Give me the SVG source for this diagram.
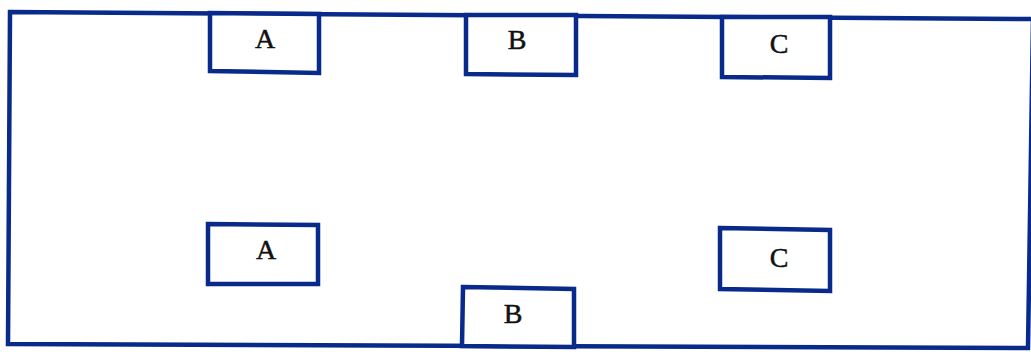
<svg xmlns="http://www.w3.org/2000/svg" width="1031" height="352" viewBox="0 0 1031 352">
<style>
.frame{fill:none;stroke:#082a8a;stroke-width:4.5;stroke-linejoin:miter}
.box{fill:#ffffff;stroke:#082a8a;stroke-width:4.5}
.lbl{font-family:"Liberation Serif","Times New Roman",serif;font-size:28px;fill:#111;stroke:#111;stroke-width:0.5;text-anchor:middle}
</style>
<rect width="1031" height="352" fill="#ffffff"/>
<g id="outline">
<polygon class="frame" points="10,12 1033,19 1028,348 8,344"/>
</g>
<g id="connectors"></g>
<g id="node-a-top">
<polygon class="box" points="210,13 319,14 319,73 210,71"/>
<text class="lbl" x="265" y="48">A</text>
</g>
<g id="node-b-top">
<polygon class="box" points="466,15 576,15 576,75 466,74"/>
<text class="lbl" x="517" y="49">B</text>
</g>
<g id="node-c-top">
<polygon class="box" points="722,17 830,17 830,78 722,77"/>
<text class="lbl" x="779" y="53">C</text>
</g>
<g id="node-a-bottom">
<polygon class="box" points="208,224 318,225 318,284 208,284"/>
<text class="lbl" x="266" y="259">A</text>
</g>
<g id="node-b-bottom">
<polygon class="box" points="463,287 574,289 574,347 462,346"/>
<text class="lbl" x="513" y="323">B</text>
</g>
<g id="node-c-bottom">
<polygon class="box" points="720,228 830,230 830,291 720,289"/>
<text class="lbl" x="779" y="267">C</text>
</g>
</svg>
